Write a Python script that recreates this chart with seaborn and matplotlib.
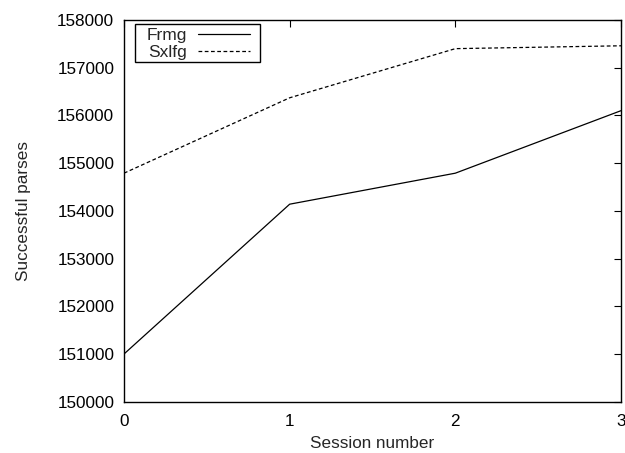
import matplotlib
matplotlib.use("Agg")
import matplotlib.pyplot as plt
import seaborn as sns
import pandas as pd
from matplotlib.lines import Line2D
from matplotlib.patches import Rectangle

sessions = [0, 1, 2, 3]
frmg = [151000, 154140, 154790, 156100]
sxlfg = [154790, 156370, 157400, 157460]
series_names = ["Frmg", "Sxlfg"]

sns.set_style("white")
plt.rcParams["font.family"] = ["Liberation Sans", "DejaVu Sans"]

df = pd.DataFrame({
    "session": sessions * 2,
    "parses": frmg + sxlfg,
    "parser": [series_names[0]] * len(sessions) + [series_names[1]] * len(sessions),
})

fig = plt.figure(figsize=(6.25, 4.53), dpi=100)
ax = fig.add_axes([0.1984, 0.1132, 0.7952, 0.8426])

sns.lineplot(data=df, x="session", y="parses", hue="parser", style="parser",
             palette=["black", "black"], dashes={"Frmg": "", "Sxlfg": (3, 2)},
             linewidth=0.9, ax=ax, legend=False)

ax.set_xlim(0, 3)
ax.set_ylim(150000, 158000)
ax.set_xticks([0, 1, 2, 3])
ax.set_yticks(range(150000, 158001, 1000))
ax.set_yticklabels([str(v) for v in range(150000, 158001, 1000)])
ax.tick_params(direction="in", length=5, width=0.8, top=True, right=True,
               labelsize=12.3, colors="black")
ax.tick_params(axis="x", pad=9)
ax.tick_params(axis="y", pad=7)
for s in ax.spines.values():
    s.set_linewidth(1.0)
    s.set_color("black")
ax.set_xlabel("Session number", fontsize=12.3, labelpad=5)
ax.set_ylabel("Successful parses", fontsize=12.3, labelpad=19)

# legend (gnuplot style: label first, sample after), with its own box
handles = [Line2D([], [], color="black", lw=0.9),
           Line2D([], [], color="black", lw=0.9, dashes=(3, 2))]
leg = ax.legend(handles, series_names, loc="upper left", bbox_to_anchor=(0.046, 0.9795),
                markerfirst=False, fontsize=12.5, frameon=False,
                handlelength=3.0, handletextpad=0.6, borderpad=0.0, labelspacing=0.12,
                borderaxespad=0.0)
for t in leg.get_texts():
    t.set_ha("right")
ax.add_patch(Rectangle((0.0221, 0.890), 0.2515, 0.0995, transform=ax.transAxes,
                       fill=False, edgecolor="black", linewidth=1.0, zorder=5))

fig.savefig("out.png", dpi=100)
